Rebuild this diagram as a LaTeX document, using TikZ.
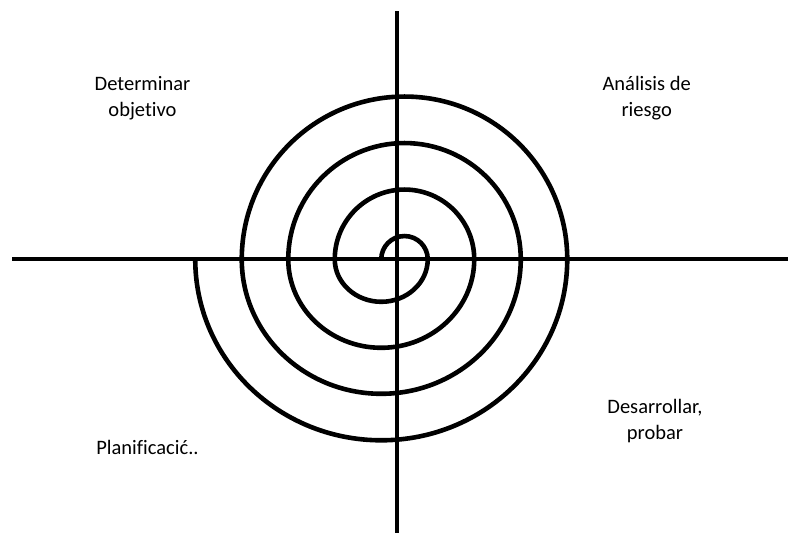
\documentclass[tikz,border=0pt]{standalone}
\usepackage{fontspec}
\setmainfont[Ligatures=NoCommon]{Carlito}
\begin{document}
\begin{tikzpicture}[x=1pt,y=1pt,
  axis/.style={line width=3.6pt},
  spiral/.style={line width=4.6pt},
  lbl/.style={font=\fontsize{20.5}{26}\selectfont, inner sep=0pt, anchor=base, align=center}]
\useasboundingbox (0,0) rectangle (788,533);
\fill[white] (0,0) rectangle (788,533);
% axes
\coordinate (hl) at (12,273.7);
\coordinate (hr) at (788,273.7);
\coordinate (vt) at (397,521.5);
\coordinate (vb) at (397,0);
\draw[axis] (hl) -- (hr);
\draw[axis] (vt) -- (vb);
% spiral
\coordinate (s0) at (381.25,273.7);
\draw[spiral] (s0)
  arc[start angle=180,end angle=0,radius=23.25]
  arc[start angle=0,end angle=-180,x radius=46.5,y radius=42.5]
  arc[start angle=180,end angle=0,radius=69.75]
  arc[start angle=0,end angle=-180,x radius=93,y radius=88.5]
  arc[start angle=180,end angle=0,radius=116.25]
  arc[start angle=0,end angle=-180,x radius=139.5,y radius=134.5]
  arc[start angle=180,end angle=0,radius=162.75]
  arc[start angle=0,end angle=-180,x radius=186,y radius=181];
% labels (base anchor = baseline of last line)
\node[lbl] (obj) at (142.5,416.3) {Determinar\\objetivo};
\node[lbl] (risk) at (646.7,416.3) {Análisis de\\riesgo};
\node[lbl] (dev) at (655,93) {Desarrollar,\\probar};
\node[lbl] (plan) at (147.5,78) {Planificacić..};
\end{tikzpicture}
\end{document}
